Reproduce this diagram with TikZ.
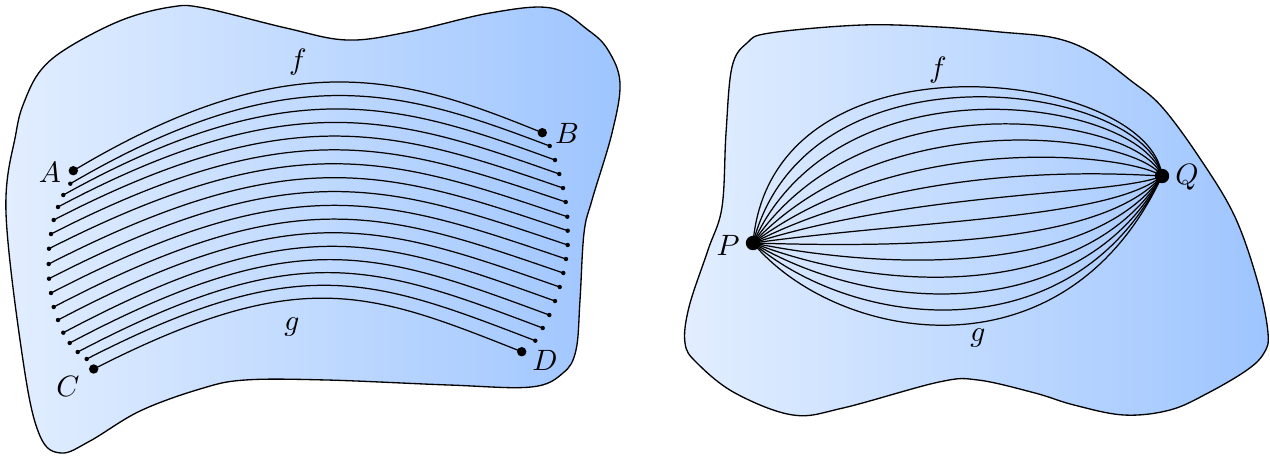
\documentclass[tikz,border=0pt]{standalone}
\usetikzlibrary{calc}
\definecolor{lightc}{RGB}{226,238,255}
\definecolor{darkc}{RGB}{158,197,255}
\begin{document}
\begin{tikzpicture}[x=0.34pt,y=-0.34pt,
  blob/.style={draw=black, line width=0.45pt, left color=lightc, right color=darkc},
  curve/.style={line width=0.42pt},
  bigdot/.style={circle, fill=black, inner sep=0pt, minimum size=3.2pt},
  smalldot/.style={circle, fill=black, inner sep=0pt, minimum size=1.5pt},
  hugedot/.style={circle, fill=black, inner sep=0pt, minimum size=4.9pt},
  lbl/.style={inner sep=0pt}]
\useasboundingbox (0,0) rectangle (1270,456);
% left blob
\path[blob] plot[smooth cycle, tension=0.6] coordinates {
 (69,47) (122,20) (171,7) (204,8) (286,28) (347,40) (408,32) (490,13) (551,8)
 (588,30) (608,50) (620,83) (612,133) (592,200) (584,233) (580,300) (576,350)
 (563,373) (531,387) (449,385) (327,380) (245,380) (200,389) (140,411) (90,441)
 (61,453) (40,436) (24,367) (6,213) (16,133) (25,100) (41,70)};
% right blob
\path[blob] plot[smooth cycle, tension=0.6] coordinates {
 (770,33) (862,25) (939,27) (1000,32) (1055,38) (1093,53) (1130,80) (1162,107)
 (1201,160) (1235,217) (1258,283) (1268,333) (1264,353) (1247,370) (1208,393)
 (1170,410) (1124,415) (1074,405) (1035,393) (978,380) (939,382) (843,408)
 (793,415) (735,393) (697,363) (685,343) (689,307) (708,250) (722,207)
 (726,133) (732,67) (747,43)};
% left family of curves
\foreach \i/\sx/\sy/\ex/\ey in {
 0/73.3/170.7/542.3/132.7, 1/70.3/183.7/549.7/146, 2/63.3/195/555/160,
 3/58/207/559.3/174, 4/53.7/220/563/188, 5/51/234/565.7/202,
 6/49/248.7/567.3/216.7, 7/48.7/264/567.7/230.7, 8/49/278.7/567.7/245,
 9/51/293/566/259, 10/53.7/307/563.3/273, 11/58/320/559.7/287,
 12/63.3/332.7/555/301, 13/69.7/343/549.3/315, 14/77.7/352/542.7/328,
 15/86.7/359/535.3/340.7, 16/93.7/369/521.7/351.7} {
  \pgfmathsetmacro\t{\i/16}
  \pgfmathsetmacro\ax{293+(300-293)*\t}
  \pgfmathsetmacro\ay{39+(264-39)*\t}
  \pgfmathsetmacro\bx{409+(369-409)*\t}
  \pgfmathsetmacro\by{78.5+(291-78.5)*\t}
  \ifnum\i=0
    \node[bigdot] (s\i) at (\sx,\sy) {};
    \node[bigdot] (e\i) at (\ex,\ey) {};
  \else\ifnum\i=16
    \node[bigdot] (s\i) at (\sx,\sy) {};
    \node[bigdot] (e\i) at (\ex,\ey) {};
  \else
    \node[smalldot] (s\i) at (\sx,\sy) {};
    \node[smalldot] (e\i) at (\ex,\ey) {};
  \fi\fi
  \draw[curve] (s\i.center) .. controls (\ax,\ay) and (\bx,\by) .. (e\i.center);
}
\node[lbl] (lA) at (50,172) {$A$};
\node[lbl] (lB) at (567,133) {$B$};
\node[lbl] (lC) at (68,386) {$C$};
\node[lbl] (lD) at (545,360) {$D$};
\node[lbl] (lf) at (298,62) {$f$};
\node[lbl] (lg) at (292,327) {$g$};
% right family
\node[hugedot] (P) at (753,243) {};
\node[hugedot] (Q) at (1162,176) {};
\foreach \i in {0,...,14} {
  \pgfmathsetmacro\u{\i/14}
  \pgfmathsetmacro\s{0.6*\u+0.4*\u*\u}
  \pgfmathsetmacro\a{-85+135*\u}
  \pgfmathsetmacro\LP{222-92*\u}
  \pgfmathsetmacro\qx{1150-85*\s}
  \pgfmathsetmacro\qy{70+314.5*\s}
  \draw[curve] (P.center) .. controls ($(P)+(\a:\LP)$) and (\qx,\qy) .. (Q.center);
}
\node[lbl] (lP) at (728,245) {$P$};
\node[lbl] (lQ) at (1187,177) {$Q$};
\node[lbl] (lf2) at (938,70) {$f$};
\node[lbl] (lg2) at (978,338) {$g$};
\end{tikzpicture}
\end{document}
